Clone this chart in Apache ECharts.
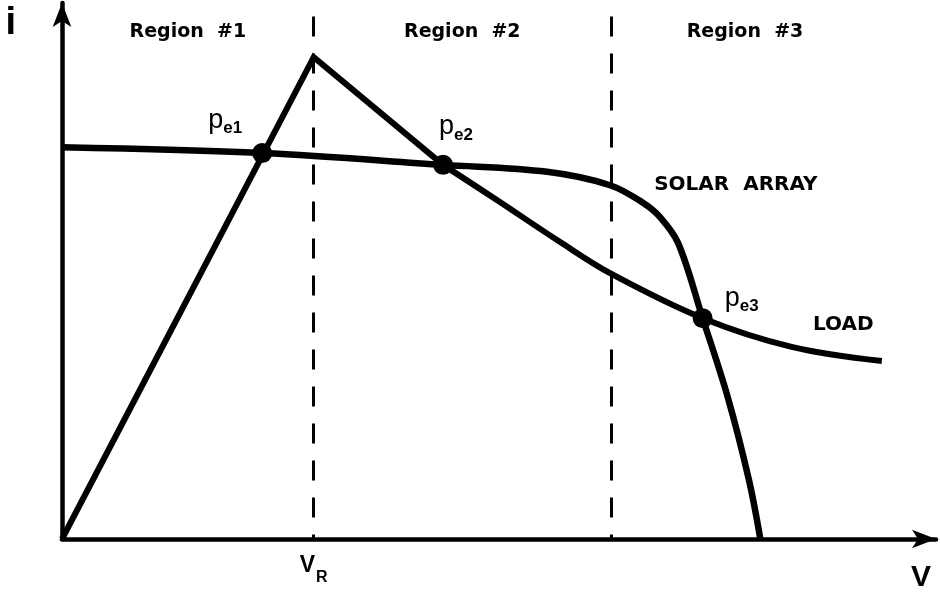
<!DOCTYPE html>
<html>
<head>
<meta charset="utf-8">
<script src="https://cdn.jsdelivr.net/npm/echarts@6/dist/echarts.min.js"></script>
<style>
  html, body { margin: 0; padding: 0; background: #fff; }
  #chart { width: 940px; height: 594px; }
</style>
</head>
<body>
<div id="chart"></div>
<script>
// solar array i-v curve
const solarV = [0, 23.0, 43.6, 55.5, 62.7, 66.5, 68.4, 70.5, 73.3, 76.2, 78.6, 79.9];
const solarI = [73.1, 72.0, 69.8, 68.5, 66.0, 62.7, 60.1, 55.2, 41.2, 26.3, 11.0, 0];
// load line
const loadV = [0, 28.8, 43.6, 49.8, 57.0, 62.7, 73.3, 83.6, 93.8];
const loadI = [0, 89.9, 69.8, 63.2, 55.4, 49.6, 41.2, 35.8, 33.2];
// operating points
const eqV = [22.9, 43.6, 73.3];
const eqI = [72.0, 69.8, 41.2];
const eqNames = ["e1", "e2", "e3"];
// regions
const regionBounds = [0, 28.8, 62.8, 93.5];
const regionNames = ["Region  #1", "Region  #2", "Region  #3"];
const tickValues = [28.8];
const tickNames = ["R"];

const pts = (xs, ys) => xs.map((x, i) => [x, ys[i]]);
const solarPts = pts(solarV, solarI);
const loadPts = pts(loadV, loadI);

const black = "#000";
const labelOffsets = [[-37, -33], [13, -38], [39, -20]];

const option = {
  animation: false,
  grid: { left: 62, right: 4, top: 3, bottom: 55 },
  xAxis: {
    type: "value",
    min: 0,
    max: 100,
    name: "V",
    nameLocation: "end",
    nameGap: -15,
    nameTextStyle: {
      align: "center",
      verticalAlign: "top",
      padding: [24, 0, 0, 0],
      fontSize: 30,
      fontWeight: "bold",
      fontFamily: "Liberation Sans",
      color: black
    },
    axisLine: {
      symbol: ["none", "arrow"],
      symbolSize: [14, 24],
      lineStyle: { color: black, width: 4.5 }
    },
    axisTick: { show: false },
    splitLine: { show: false },
    axisLabel: {
      customValues: tickValues,
      margin: 15,
      formatter: (v) => "{v|V}{r|" + tickNames[tickValues.indexOf(v)] + "}",
      rich: {
        v: { fontSize: 23, fontWeight: "bold", fontFamily: "Liberation Sans", color: black, lineHeight: 23, verticalAlign: "top" },
        r: { fontSize: 16, fontWeight: "bold", fontFamily: "Liberation Sans", color: black, lineHeight: 16, verticalAlign: "top", padding: [16, 0, 0, 1] }
      }
    }
  },
  yAxis: {
    type: "value",
    min: 0,
    max: 100,
    name: "i",
    nameLocation: "end",
    nameGap: -2,
    nameTextStyle: {
      align: "right",
      verticalAlign: "top",
      padding: [0, 46, 0, 0],
      fontSize: 38,
      fontWeight: "bold",
      fontFamily: "Liberation Sans",
      color: black
    },
    axisLine: {
      symbol: ["none", "arrow"],
      symbolSize: [14, 24],
      lineStyle: { color: black, width: 4.5 }
    },
    axisTick: { show: false },
    axisLabel: { show: false },
    splitLine: { show: false }
  },
  series: [
    {
      name: "SOLAR ARRAY",
      type: "line",
      data: solarPts,
      smooth: 0.35,
      symbol: "none",
      lineStyle: { color: black, width: 6.5 },
      markLine: {
        silent: true,
        symbol: "none",
        label: { show: false },
        lineStyle: { color: black, width: 3, type: [20, 17] },
        data: regionBounds.slice(1, 3).map((x) => [
          { coord: [x, 97.5] },
          { coord: [x, 0] }
        ])
      },
      markArea: {
        silent: true,
        itemStyle: { color: "transparent" },
        label: {
          position: "inside",
          fontSize: 19,
          fontWeight: "bold",
          fontFamily: "DejaVu Sans",
          color: black
        },
        data: regionNames.map((n, i) => [
          { name: n, xAxis: regionBounds[i], yAxis: 90.6 },
          { xAxis: regionBounds[i + 1], yAxis: 98.6 }
        ])
      },
      markPoint: {
        silent: true,
        symbol: "circle",
        symbolSize: 0,
        label: {
          show: true,
          position: "inside",
          formatter: "{b}",
          fontSize: 20,
          fontWeight: "bold",
          fontFamily: "DejaVu Sans",
          color: black
        },
        data: [{ name: "SOLAR  ARRAY", coord: [77.1, 66.0] }]
      }
    },
    {
      name: "LOAD",
      type: "line",
      data: loadPts.slice(0, 3),
      symbol: "none",
      lineStyle: { color: black, width: 6, join: "miter" },
      markPoint: {
        silent: true,
        symbol: "circle",
        symbolSize: 0,
        label: {
          show: true,
          position: "inside",
          formatter: "{b}",
          fontSize: 20,
          fontWeight: "bold",
          fontFamily: "DejaVu Sans",
          color: black
        },
        data: [{ name: "LOAD", coord: [89.4, 39.9] }]
      }
    },
    {
      name: "LOAD",
      type: "line",
      data: loadPts.slice(2),
      smooth: 0.35,
      symbol: "none",
      lineStyle: { color: black, width: 6 }
    },
    {
      name: "pe",
      type: "scatter",
      symbol: "circle",
      symbolSize: 20,
      itemStyle: { color: black, opacity: 1 },
      z: 5,
      data: eqV.map((x, i) => ({
        value: [x, eqI[i]],
        label: { offset: labelOffsets[i] }
      })),
      label: {
        show: true,
        position: "inside",
        formatter: (p) => "{p|p}{s|" + eqNames[p.dataIndex] + "}",
        rich: {
          p: { fontSize: 27, fontFamily: "Liberation Sans", color: black, lineHeight: 27, verticalAlign: "top" },
          s: { fontSize: 17, fontFamily: "Liberation Sans", fontWeight: "bold", color: black, lineHeight: 17, verticalAlign: "top", padding: [13, 0, 0, 0] }
        }
      }
    }
  ]
};

const chart = echarts.init(document.getElementById("chart"));
chart.setOption(option);
</script>
</body>
</html>
